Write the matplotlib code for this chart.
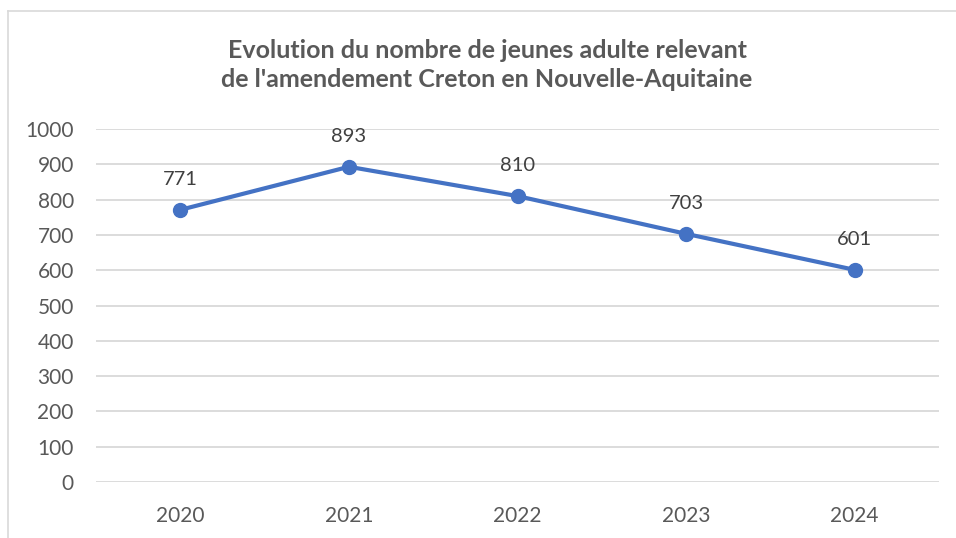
import matplotlib.pyplot as plt
from matplotlib.lines import Line2D

# data
years = ["2020", "2021", "2022", "2023", "2024"]
values = [771, 893, 810, 703, 601]
y_ticks = [0, 100, 200, 300, 400, 500, 600, 700, 800, 900, 1000]

title = "Evolution du nombre de jeunes adulte relevant\nde l'amendement Creton en Nouvelle-Aquitaine"

plt.rcParams['font.family'] = ['Lato', 'DejaVu Sans']

fig = plt.figure(figsize=(9.56, 5.38), dpi=100)
W, H = 956, 538
ax = fig.add_axes([96 / W, 1 - 482 / H, (939 - 96) / W, (482 - 129) / H])

x = list(range(len(years)))
ax.plot(x, values, color="#4472C4", linewidth=3, marker="o", markersize=10,
        solid_capstyle="round", zorder=3)
for xi, v in zip(x, values):
    ax.annotate(str(v), (xi, v), xytext=(0, 22), textcoords="offset points",
                ha="center", va="center", fontsize=14.5, color="#404040")

ax.set_xlim(-0.5, len(years) - 0.5)
ax.set_ylim(0, 1000)
ax.set_xticks(x)
ax.set_xticklabels(years)
ax.set_yticks(y_ticks)
ax.tick_params(axis="both", length=0, labelsize=15, labelcolor="#595959")
ax.tick_params(axis="y", pad=16)
ax.tick_params(axis="x", pad=17)
ax.grid(axis="y", color="#D9D9D9", linewidth=1.3)
ax.set_axisbelow(True)
for s in ax.spines.values():
    s.set_visible(False)

fig.text(487 / W, 1 - 65 / H, title, ha="center", va="center", fontsize=18,
         fontweight="bold", color="#595959", linespacing=1.35)

# chart frame (partly cropped in the reference)
fig.add_artist(Line2D([8 / W, 8 / W], [0, 1 - 11 / H], color="#D9D9D9", linewidth=1.2))
fig.add_artist(Line2D([8 / W, 1], [1 - 11 / H, 1 - 11 / H], color="#D9D9D9", linewidth=1.2))

fig.savefig("out.png", dpi=100)
